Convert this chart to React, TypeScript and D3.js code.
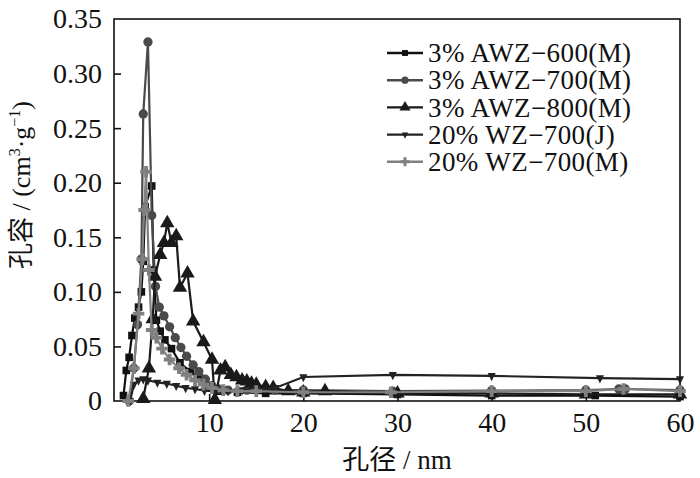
import React, { useEffect, useRef } from "react";
import * as d3 from "d3";

type Pt = [number, number];

// pore diameter (nm), pore volume (cm3/g)
const awz600M: Pt[] = [
    [0.9, 0.005], [1.2, 0.028], [1.5, 0.04], [1.8, 0.06], [2.1, 0.076], [2.5, 0.086],
    [2.8, 0.1], [3.0, 0.128], [3.2, 0.178], [3.9, 0.197], [4.1, 0.12], [4.4, 0.074],
    [4.8, 0.064], [5.3, 0.056], [6.0, 0.048], [6.9, 0.035], [8.0, 0.027], [9.0, 0.021],
    [10.0, 0.013], [11.0, 0.009], [13, 0.008], [16, 0.007], [20, 0.007], [30, 0.006],
    [40, 0.005], [51, 0.005], [60, 0.004],
];
const awz700M: Pt[] = [
    [1.5, 0.0], [2.0, 0.03], [2.4, 0.07], [2.8, 0.13], [3.0, 0.263], [3.5, 0.329],
    [3.9, 0.17], [4.3, 0.105], [4.7, 0.086], [5.2, 0.078], [5.8, 0.068], [6.4, 0.058],
    [7.0, 0.049], [7.6, 0.041], [8.3, 0.033], [8.9, 0.027], [9.6, 0.02], [10.3, 0.014],
    [11.0, 0.011], [12, 0.01], [14, 0.01], [17, 0.01], [20, 0.01], [29.5, 0.009],
    [40, 0.0095], [50, 0.01], [53.5, 0.011], [54.2, 0.011], [60, 0.01],
];
const awz800M: Pt[] = [
    [3.0, 0.002], [3.6, 0.03], [4.0, 0.075], [4.25, 0.114], [4.8, 0.134], [5.2, 0.145],
    [5.55, 0.163], [6.0, 0.145], [6.5, 0.151], [6.9, 0.104], [7.7, 0.117], [8.3, 0.073],
    [9.4, 0.054], [10.3, 0.038], [10.6, 0.001], [11.2, 0.028], [11.7, 0.031], [12.3, 0.024],
    [12.9, 0.022], [13.5, 0.019], [14, 0.018], [14.5, 0.016], [15, 0.015], [16, 0.013],
    [16.8, 0.012], [18.4, 0.009], [20, 0.008], [22.3, 0.009], [30, 0.007], [40, 0.007],
    [50, 0.006], [60, 0.006],
];
const wz700J: Pt[] = [
    [1.6, 0.0], [2.0, 0.015], [2.5, 0.019], [3.0, 0.02], [3.5, 0.019], [4.5, 0.017],
    [5.5, 0.016], [6.5, 0.014], [7.5, 0.012], [8.5, 0.011], [9.5, 0.0095], [10.5, 0.009],
    [12, 0.009], [13.5, 0.01], [15, 0.011], [17, 0.012], [20, 0.022], [29.5, 0.024],
    [40, 0.023], [51.5, 0.021], [60, 0.02],
];
const wz700M: Pt[] = [
    [1.4, 0.0], [2.0, 0.03], [2.5, 0.08], [2.9, 0.13], [3.1, 0.175], [3.3, 0.21],
    [3.6, 0.12], [3.9, 0.065], [4.4, 0.058], [5.0, 0.048], [5.8, 0.038], [6.8, 0.03],
    [7.6, 0.024], [8.5, 0.019], [9.4, 0.015], [10.3, 0.012], [11.5, 0.01], [13, 0.009],
    [15, 0.009], [20, 0.008], [29.3, 0.008], [40, 0.009], [50, 0.009], [54, 0.011],
    [60, 0.009],
];

const seriesNames = [
    "3% AWZ\u2212600(M)",
    "3% AWZ\u2212700(M)",
    "3% AWZ\u2212800(M)",
    "20% WZ\u2212700(J)",
    "20% WZ\u2212700(M)",
];
const seriesData = [awz600M, awz700M, awz800M, wz700J, wz700M];
const seriesColors = ["#111", "#4a4a4a", "#1a1a1a", "#222", "#808080"];

const xTicks = [10, 20, 30, 40, 50, 60];
const yTicks = [0, 0.05, 0.1, 0.15, 0.2, 0.25, 0.3, 0.35];

const FONT = '"Liberation Serif", "Times New Roman", Times, "Noto Sans CJK SC", serif';

// down-pointing triangle
const triangleDown: d3.SymbolType = {
    draw(ctx, size) {
        const h = Math.sqrt(size / (3 * Math.sqrt(3) / 4));
        const r = h / Math.sqrt(3);
        ctx.moveTo(0, r * 1.15);
        ctx.lineTo(h / 2, -r * 0.6);
        ctx.lineTo(-h / 2, -r * 0.6);
        ctx.closePath();
    },
};
const symbolTypes: d3.SymbolType[] = [
    d3.symbolSquare,
    d3.symbolCircle,
    d3.symbolTriangle,
    triangleDown,
    d3.symbolCross,
];
const symbolSizes = [58, 68, 90, 85, 75];

const App: React.FC = () => {
    const ref = useRef<SVGSVGElement | null>(null);

    useEffect(() => {
        const svg = d3.select(ref.current);
        svg.selectAll("*").remove();

        const x = d3.scaleLinear().domain([0, 60]).range([115, 680]);
        const y = d3.scaleLinear().domain([0, 0.35]).range([401, 19]);

        // frame
        svg.append("rect")
            .attr("x", 114)
            .attr("y", 19)
            .attr("width", 680 - 114)
            .attr("height", 401 - 19)
            .attr("fill", "none")
            .attr("stroke", "#111")
            .attr("stroke-width", 1.6);

        const xAxis = svg
            .append("g")
            .attr("transform", "translate(0,401)")
            .call(
                d3.axisBottom(x).tickValues(xTicks).tickSize(-7).tickPadding(11).tickFormat(d3.format("d"))
            );
        const yAxis = svg
            .append("g")
            .attr("transform", "translate(114,0)")
            .call(
                d3
                    .axisLeft(y)
                    .tickValues(yTicks)
                    .tickSize(-7)
                    .tickPadding(12)
                    .tickFormat((d) => (+d === 0 ? "0" : d3.format(".2f")(+d)))
            );
        [xAxis, yAxis].forEach((a) => {
            a.select(".domain").remove();
            a.selectAll("line").attr("stroke", "#111").attr("stroke-width", 1.6);
            a.selectAll("text")
                .attr("fill", "#111")
                .style("font-family", FONT)
                .style("font-size", "28px");
        });
        yAxis.selectAll(".tick").filter((d) => +d === 0 || +d === 0.35).select("line").remove();
        xAxis.selectAll(".tick").filter((d) => +d === 60).select("line").remove();

        const line = d3
            .line<Pt>()
            .x((d) => x(d[0]))
            .y((d) => y(d[1]));

        seriesData.forEach((data, i) => {
            const g = svg.append("g");
            g.append("path")
                .attr("d", line(data))
                .attr("fill", "none")
                .attr("stroke", seriesColors[i])
                .attr("stroke-width", 2.2);
            g.selectAll("path.m")
                .data(data)
                .join("path")
                .attr("class", "m")
                .attr("transform", (d) => `translate(${x(d[0])},${y(d[1])})`)
                .attr("d", d3.symbol().type(symbolTypes[i]).size(symbolSizes[i])())
                .attr("fill", seriesColors[i]);
        });

        // legend
        const legend = svg.append("g");
        seriesNames.forEach((name, i) => {
            const ly = 53 + i * 27.2;
            legend
                .append("line")
                .attr("x1", 387)
                .attr("x2", 423)
                .attr("y1", ly)
                .attr("y2", ly)
                .attr("stroke", seriesColors[i])
                .attr("stroke-width", 2.4);
            legend
                .append("path")
                .attr("transform", `translate(405,${ly})`)
                .attr("d", d3.symbol().type(symbolTypes[i]).size(symbolSizes[i] * 0.6)())
                .attr("fill", seriesColors[i]);
            legend
                .append("text")
                .attr("x", 428)
                .attr("y", ly)
                .attr("dy", "0.34em")
                .attr("fill", "#111")
                .style("font-family", FONT)
                .style("font-size", "27px")
                .style("letter-spacing", "0.4px")
                .text(name);
        });

        // axis titles
        svg.append("text")
            .attr("x", 397)
            .attr("y", 469)
            .attr("text-anchor", "middle")
            .attr("fill", "#111")
            .style("font-family", FONT)
            .style("font-size", "27px")
            .text("孔径 / nm");

        const yt = svg
            .append("text")
            .attr("transform", "translate(30,185) rotate(-90)")
            .attr("text-anchor", "middle")
            .attr("fill", "#111")
            .style("font-family", FONT)
            .style("font-size", "26px");
        yt.append("tspan").text("孔容 / (cm");
        yt.append("tspan").attr("dy", -10).style("font-size", "16px").text("3");
        yt.append("tspan").attr("dy", 10).text("·g");
        yt.append("tspan").attr("dy", -10).style("font-size", "16px").text("\u22121");
        yt.append("tspan").attr("dy", 10).text(")");
    }, []);

    return (
        <svg
            ref={ref}
            width={700}
            height={478}
            style={{ position: "absolute", left: 0, top: 0, background: "#fff" }}
        />
    );
};

export default App;
